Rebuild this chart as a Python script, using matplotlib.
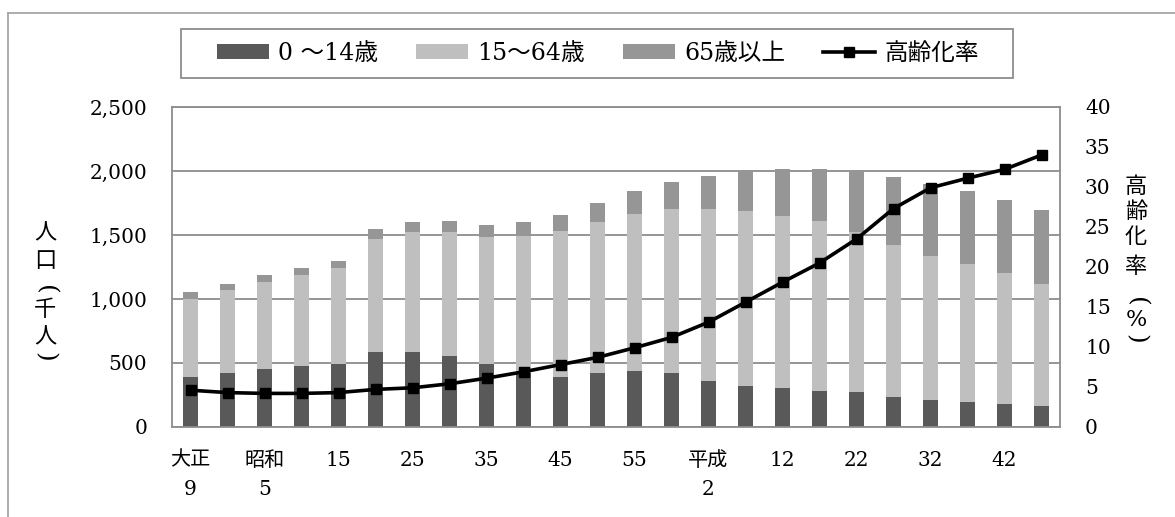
import numpy as np
import matplotlib
matplotlib.use("Agg")
import matplotlib.pyplot as plt
from matplotlib.lines import Line2D
from matplotlib.patches import Rectangle

plt.rcParams['font.family'] = ['DejaVu Serif', 'Noto Sans CJK JP']

# 大正9年(1920)から5年ごと、平成47年(2035)まで
tick_labels = ['大正\n9', '', '昭和\n5', '', '15', '', '25', '', '35', '', '45', '',
               '55', '', '平成\n2', '', '12', '', '22', '', '32', '', '42', '']

# 人口（千人）
age_0_14 = [394, 425, 452, 477, 491, 589, 584, 555, 493, 420, 394, 425,
            441, 420, 361, 324, 304, 285, 270, 238, 213, 192, 179, 166]
age_15_64 = [605, 644, 680, 709, 752, 883, 940, 969, 991, 1072, 1135, 1176,
             1220, 1286, 1345, 1363, 1344, 1322, 1254, 1182, 1123, 1080, 1025, 955]
age_65_over = [52, 47, 54, 55, 52, 72, 75, 88, 92, 109, 124, 151,
               182, 210, 253, 313, 369, 410, 477, 537, 564, 568, 572, 571]

# 高齢化率（%）
aging_rate = [4.6, 4.3, 4.2, 4.2, 4.3, 4.7, 4.9, 5.4, 6.1, 6.9, 7.8, 8.7,
              9.9, 11.2, 13.1, 15.6, 18.1, 20.5, 23.5, 27.3, 29.9, 31.1, 32.2, 34.0]

c_young = '#595959'
c_work = '#bfbfbf'
c_old = '#969696'
c_grid = '#8c8c8c'

W, H = 1175, 517
x = np.arange(len(age_0_14))
young = np.array(age_0_14)
work = np.array(age_15_64)
old = np.array(age_65_over)

fig = plt.figure(figsize=(W / 100, H / 100), dpi=100)
ax = fig.add_axes([172 / W, 90 / H, 888 / W, 320 / H])

w = 0.39
b1 = ax.bar(x, young, w, color=c_young, label='0 ～14歳', zorder=2)
b2 = ax.bar(x, work, w, bottom=young, color=c_work, label='15～64歳', zorder=2)
b3 = ax.bar(x, old, w, bottom=young + work, color=c_old, label='65歳以上', zorder=2)

ax.set_xlim(-0.5, len(x) - 0.5)
ax.set_ylim(0, 2500)
ax.set_yticks(np.arange(0, 2501, 500))
ax.yaxis.set_major_formatter(matplotlib.ticker.FuncFormatter(lambda v, p: f'{int(v):,}'))
ax.grid(axis='y', color=c_grid, linewidth=1.3, zorder=1)
ax.set_axisbelow(True)
for s in ax.spines.values():
    s.set_color(c_grid)
    s.set_linewidth(1.3)
ax.set_xticks(x)
ax.set_xticklabels(tick_labels, fontsize=14.5, linespacing=1.7, va='top')
ax.tick_params(axis='x', length=0, pad=17)
ax.tick_params(axis='y', length=0, pad=18, labelsize=14.5)

ax2 = ax.twinx()
ax2.set_ylim(0, 40)
ax2.set_yticks(np.arange(0, 41, 5))
ax2.tick_params(axis='y', length=0, pad=18, labelsize=14.5)
for s in ax2.spines.values():
    s.set_visible(False)
line, = ax2.plot(x, aging_rate, color='black', linewidth=2.6, marker='s',
                 markersize=7, label='高齢化率', zorder=3)


def vertical_label(xc, chars, ys):
    # 1文字ずつ縦に並べる（括弧は90度回して縦書きの形にする）
    for ch, yc in zip(chars, ys):
        if ch in '()':
            fig.text(xc / W, 1 - yc / H, ch, fontsize=18, ha='center', va='center',
                     rotation=-90, family='DejaVu Serif', fontweight='light')
        else:
            fig.text(xc / W, 1 - yc / H, ch, fontsize=16, ha='center', va='center')


vertical_label(45, '人口(千人)', [233, 261, 290, 310, 337, 357])
vertical_label(1136, '高齢化率(%)', [187, 212, 237, 267, 302, 320, 339])

leg = fig.legend(handles=[b1, b2, b3, line], ncol=4, loc='center left',
                 bbox_to_anchor=(217 / W, 1 - 53.5 / H), fontsize=17,
                 frameon=False, handlelength=2.2, handleheight=0.62,
                 handletextpad=0.4, columnspacing=1.6, borderpad=0,
                 borderaxespad=0)

# 凡例の枠
fig.add_artist(Rectangle((181 / W, 1 - 78 / H), 832 / W, 49 / H, fill=False,
                         edgecolor=c_grid, linewidth=1.3, transform=fig.transFigure))

# 外枠（上端と左端）
fig.add_artist(Line2D([8 / W, 1.0], [1 - 13 / H, 1 - 13 / H],
                      color='#a6a6a6', linewidth=1.3, transform=fig.transFigure))
fig.add_artist(Line2D([8 / W, 8 / W], [0.0, 1 - 13 / H],
                      color='#a6a6a6', linewidth=1.3, transform=fig.transFigure))

fig.savefig('out.png', dpi=100)
